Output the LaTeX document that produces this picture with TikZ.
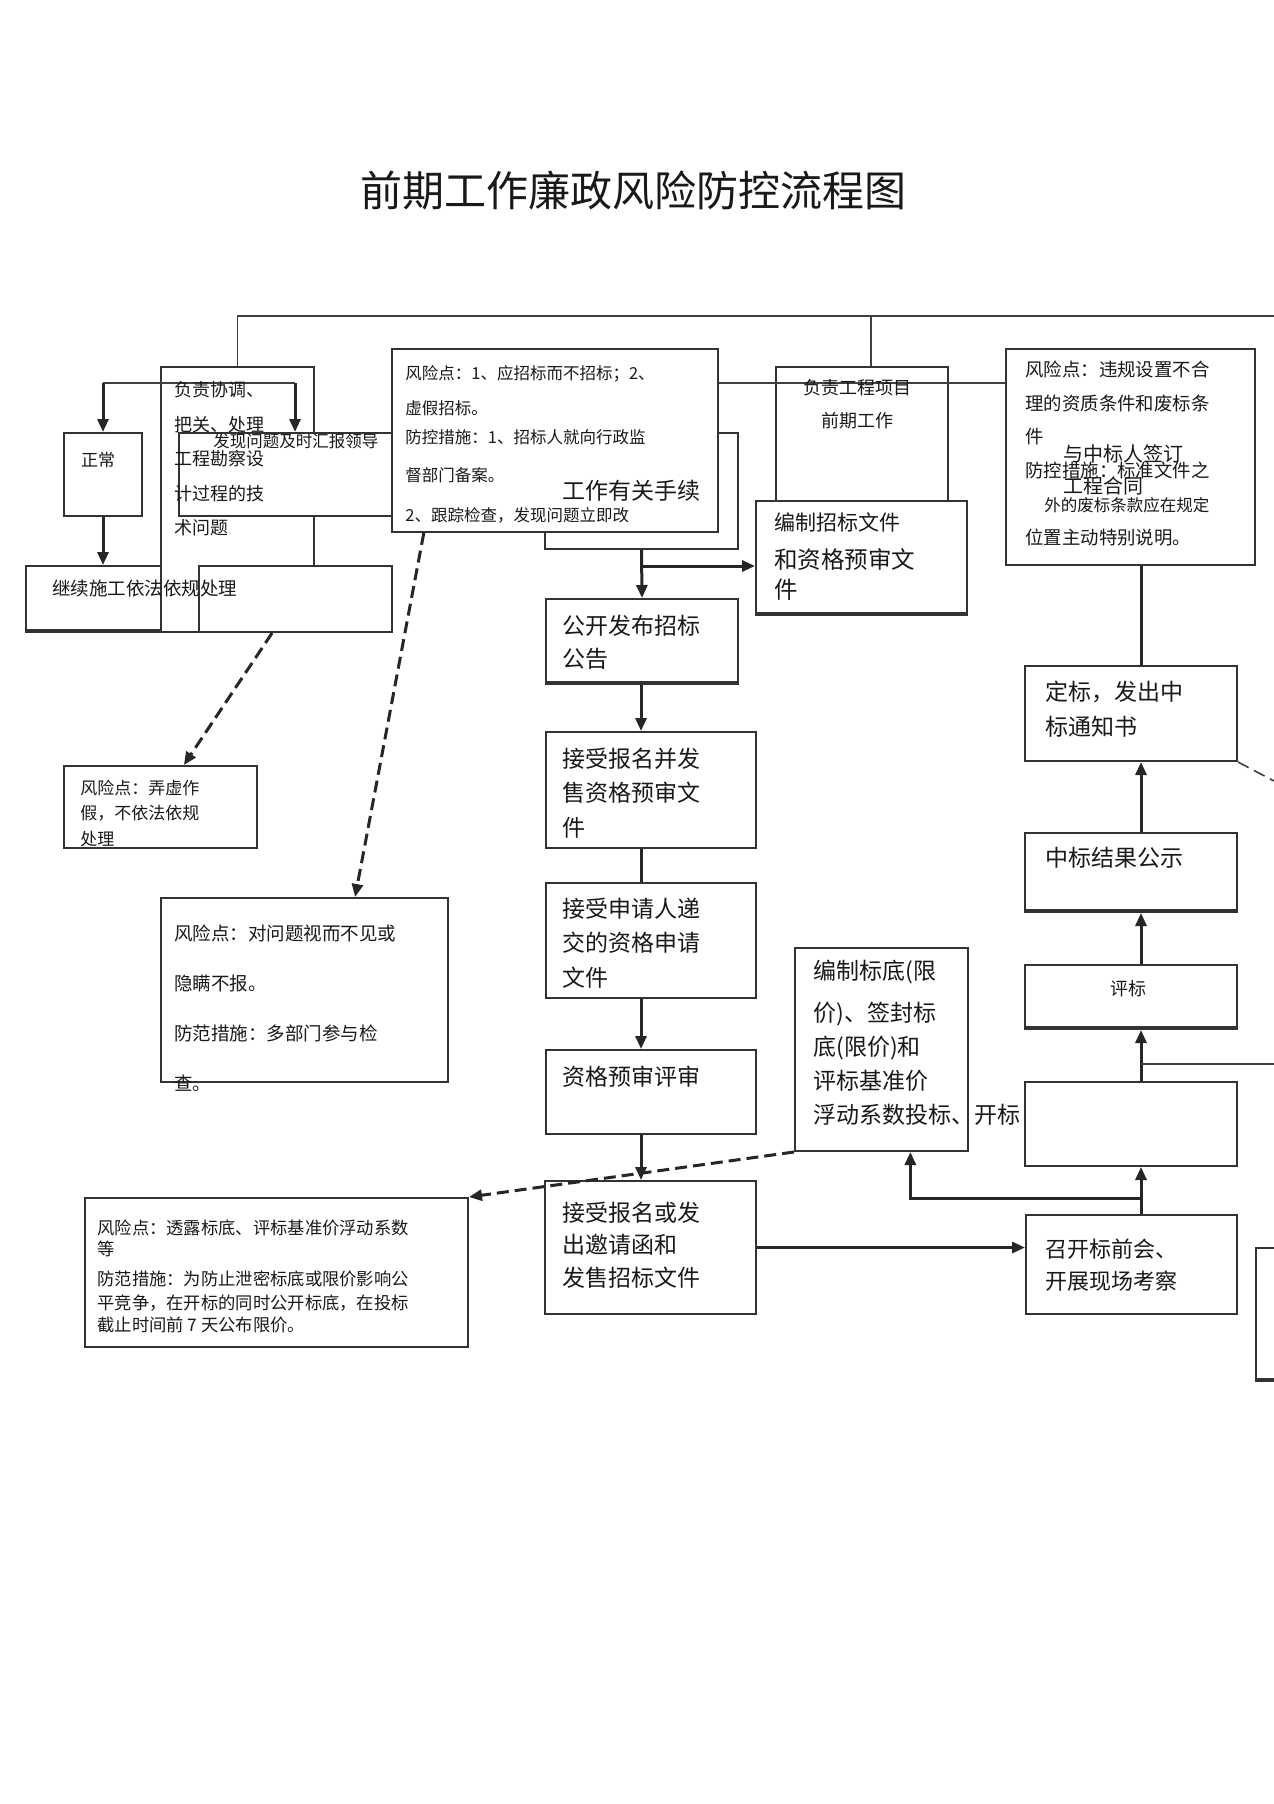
\documentclass[tikz,border=0pt]{standalone}
\usepackage{fontspec}
\setmainfont{Noto Sans CJK SC}
\usetikzlibrary{arrows.meta, positioning, calc, fit}

\tikzset{
  box/.style={draw=black!80, line width=1pt, fill=white, inner sep=0pt},
  heavybase/.style={path picture={\draw[black!80, line width=3pt] (path picture bounding box.south west) -- (path picture bounding box.south east);}},
  txt/.style={anchor=north west, align=left, inner sep=0pt, text=black!90},
  thinline/.style={draw=black!75, line width=0.8pt},
  plainthick/.style={draw=black!85, line width=1.5pt},
  arr/.style={draw=black!85, line width=1.5pt, -{Triangle[width=5.5pt,length=6.5pt]}},
  dasharr/.style={draw=black!85, line width=1.5pt, dash pattern=on 6pt off 3pt, -{Triangle[width=5.5pt,length=6.5pt]}},
}

\begin{document}
\begin{tikzpicture}[x=0.5pt, y=-0.5pt]
  \useasboundingbox (0,0) rectangle (1274,1804);
  \fill[white] (0,0) rectangle (1274,1804);

  % --- title
  \node[font=\fontsize{21}{21}\selectfont, inner sep=0pt, text=black!90] (title) at (633,190) {前期工作廉政风险防控流程图};

  % --- boxes, left group
  \node[box, fit={(161,367) (314,632)}] (xietiao) {};
  \node[box, fit={(179,433) (500,516)}] (faxian) {};
  \node[box, fit={(199,566) (392,632)}] (kongbai1) {};
  \node[box, heavybase, fit={(26,566) (161,632)}] (jixu) {};
  \node[box, fit={(64,433) (142,516)}] (zhengchang) {};
  \node[box, fit={(545,433) (738,549)}] (shouxu) {};
  \node[box, fit={(392,349) (718,532)}] (fengxian1) {};
  \node[box, fit={(64,766) (257,848)}] (fengxian2) {};
  \node[box, fit={(161,898) (448,1082)}] (fengxian4) {};
  \node[box, fit={(85,1198) (468,1347)}] (fengxian5) {};

  % --- boxes, middle column
  \node[box, fit={(776,367) (948,560)}] (fuze) {};
  \node[box, heavybase, fit={(756,501) (967,615)}] (bianzhi) {};
  \node[box, heavybase, fit={(546,599) (738,684)}] (gongkai) {};
  \node[box, fit={(546,732) (756,848)}] (baoming) {};
  \node[box, fit={(546,883) (756,998)}] (shenqing) {};
  \node[box, fit={(546,1050) (756,1134)}] (yushen) {};
  \node[box, fit={(545,1181) (756,1314)}] (fashou) {};
  \node[box, fit={(795,948) (968,1151)}] (biaodi) {};

  % --- boxes, right column
  \node[box, fit={(1006,349) (1255,565)}] (fengxian3) {};
  \node[box, fit={(1025,666) (1237,761)}] (dingbiao) {};
  \node[box, heavybase, fit={(1025,833) (1237,912)}] (gongshi) {};
  \node[box, heavybase, fit={(1025,965) (1237,1029)}] (pingbiao) {};
  \node[box, fit={(1025,1082) (1237,1166)}] (kongbai2) {};
  \node[box, fit={(1026,1215) (1237,1314)}] (zhaokai) {};
  \node[box, heavybase, fit={(1256,1248) (1300,1381)}] (youbian) {};

  % --- top lines
  \coordinate (topR) at (1274,316);
  \coordinate (topJ) at (871,316);
  \draw[thinline] (xietiao.north) |- (topR);
  \draw[thinline] (topJ) -- (topJ |- fuze.north);
  \coordinate (lnk) at (860,383);
  \draw[thinline] (lnk -| fengxian1.east) -- (lnk -| fengxian3.west);

  % --- left branch
  \coordinate (brkL) at (103,383);
  \coordinate (brkR) at (295,383);
  \draw[thinline] (brkL) -- (brkR);
  \draw[arr] (brkL) -- (zhengchang.north);
  \draw[arr] (brkR) -- (brkR |- faxian.north);
  \draw[arr] (zhengchang.south) -- (zhengchang.south |- jixu.north);

  % --- middle column
  \coordinate (colx) at (641,0);
  \draw[arr] (shouxu.south) -- (gongkai.north);
  \coordinate (br1) at (641.5,566);
  \draw[arr] (br1) -- (br1 -| bianzhi.west);
  \draw[arr] (colx |- gongkai.south) -- (colx |- baoming.north);
  \draw[plainthick] (colx |- baoming.south) -- (colx |- shenqing.north);
  \draw[arr] (colx |- shenqing.south) -- (colx |- yushen.north);
  \draw[arr] (colx |- yushen.south) -- (colx |- fashou.north);
  \draw[arr] (fashou.east) -- (fashou.east -| zhaokai.west);

  % --- right column
  \coordinate (rcol) at (1141,0);
  \draw[arr] (rcol |- zhaokai.north) -- (rcol |- kongbai2.south);
  \coordinate (br2) at (1141,1198);
  \coordinate (biaodiIn) at ($(biaodi.south west)!0.665!(biaodi.south east)$);
  \draw[arr] (br2) -| (biaodiIn);
  \draw[arr] (rcol |- kongbai2.north) -- (rcol |- pingbiao.south);
  \coordinate (rEdge) at (1274,1064);
  \draw[thinline] (rcol |- rEdge) -- (rEdge);
  \draw[arr] (rcol |- pingbiao.north) -- (rcol |- gongshi.south);
  \draw[arr] (rcol |- gongshi.north) -- (rcol |- dingbiao.south);
  \draw[plainthick] (rcol |- fengxian3.south) -- (rcol |- dingbiao.north);
  \coordinate (dbOut) at (1274,781);
  \draw[thinline, dash pattern=on 6pt off 3pt] (dingbiao.south east) -- (dbOut);

  % --- dashed risk links
  \draw[dasharr] ($(kongbai1.south west)!0.38!(kongbai1.south east)$) -- ($(fengxian2.north west)!0.62!(fengxian2.north east)$);
  \draw[dasharr] ($(fengxian1.south west)!0.1!(fengxian1.south east)$) -- ($(fengxian4.north west)!0.675!(fengxian4.north east)$);
  \draw[dasharr] (biaodi.south west) -- (fengxian5.north east);

  % --- texts
  \node[txt, font=\fontsize{9}{17.25}\selectfont] (t-xietiao) at (174,381) {负责协调、\\把关、处理\\工程勘察设\\计过程的技\\术问题};
  \node[txt, font=\fontsize{8.25}{16}\selectfont] (t-faxian) at (213,433.6) {发现问题及时汇报领导};
  \node[font=\fontsize{8.5}{10}\selectfont, inner sep=0pt, text=black!90] (t-zhengchang) at (98,460) {正常};
  \node[txt, font=\fontsize{9.25}{16}\selectfont] (t-jixu) at (52,580) {继续施工依法依规处理};
  \node[txt, font=\fontsize{8.25}{17.5}\selectfont] (t-fengxian1) at (405,365.6)
    {风险点：1、应招标而不招标；2、\\虚假招标。\\[-3pt]防控措施：1、招标人就向行政监\\[1.5pt]督部门备案。\\[2.5pt]2、跟踪检查，发现问题立即改};
  \node[txt, font=\fontsize{11.5}{16}\selectfont] (t-shouxu) at (562,479.6) {工作有关手续};
  \node[txt, anchor=north, align=center, font=\fontsize{9}{16.5}\selectfont] (t-fuze) at (857,379) {负责工程项目\\前期工作};
  \node[txt, font=\fontsize{11.75}{15}\selectfont] (t-bianzhi) at (774,512.5)
    {{\fontsize{10.5}{15}\selectfont 编制招标文件}\\[4pt]和资格预审文\\件};
  \node[txt, font=\fontsize{9.2}{16.8}\selectfont] (t-fengxian3) at (1025,360.7)
    {风险点：违规设置不合\\理的资质条件和废标条\\件\\防控措施：标准文件之\\\hspace*{9.5pt}{\fontsize{8.25}{16.8}\selectfont 外的废标条款应在规定}\\位置主动特别说明。};
  \node[txt, font=\fontsize{10}{16}\selectfont] (t-hetong) at (1063,444) {与中标人签订\\工程合同};
  \node[txt, font=\fontsize{11.5}{16.5}\selectfont] (t-gongkai) at (562,614.6) {公开发布招标\\公告};
  \node[txt, font=\fontsize{11.5}{17.25}\selectfont] (t-baoming) at (562,747.6) {接受报名并发\\售资格预审文\\件};
  \node[txt, font=\fontsize{11.5}{17.25}\selectfont] (t-shenqing) at (562,897.6) {接受申请人递\\交的资格申请\\文件};
  \node[txt, font=\fontsize{11.5}{16}\selectfont] (t-yushen) at (562,1065.6) {资格预审评审};
  \node[txt, font=\fontsize{11.5}{16.25}\selectfont] (t-fashou) at (562,1201.6) {接受报名或发\\出邀请函和\\发售招标文件};
  \node[txt, font=\fontsize{11.5}{17}\selectfont] (t-biaodi) at (813,959.6)
    {编制标底(限\\[4pt]价)、签封标\\底(限价)和\\评标基准价\\浮动系数投标、开标};
  \node[txt, font=\fontsize{11}{16}\selectfont] (t-zhaokai) at (1045,1238) {召开标前会、\\开展现场考察};
  \node[txt, font=\fontsize{11.5}{17.5}\selectfont] (t-dingbiao) at (1045,680.6) {定标，发出中\\标通知书};
  \node[txt, font=\fontsize{11.5}{16}\selectfont] (t-gongshi) at (1045,846.6) {中标结果公示};
  \node[font=\fontsize{9}{10}\selectfont, inner sep=0pt, text=black!90] (t-pingbiao) at (1128,989) {评标};
  \node[txt, font=\fontsize{8.5}{12.75}\selectfont] (t-fengxian2) at (80,779.4) {风险点：弄虚作\\假，不依法依规\\处理};
  \node[txt, font=\fontsize{9.25}{25}\selectfont] (t-fengxian4) at (174,924.7)
    {风险点：对问题视而不见或\\隐瞒不报。\\防范措施：多部门参与检\\查。};
  \node[txt, font=\fontsize{8.65}{12.25}\selectfont] (t-fengxian5) at (97,1219.2)
    {风险点：透露标底、评标基准价浮动系数\\[-1.75pt]等\\[2.75pt]防范措施：为防止泄密标底或限价影响公\\平竞争，在开标的同时公开标底，在投标\\[-1.25pt]截止时间前 7 天公布限价。};

\end{tikzpicture}
\end{document}
